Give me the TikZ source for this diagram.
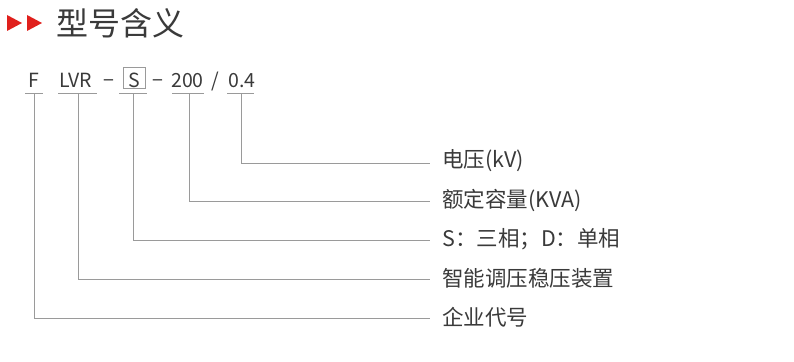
\documentclass[tikz,border=0pt]{standalone}
\usepackage{fontspec}
\setmainfont{Noto Sans CJK SC}
\begin{document}
\begin{tikzpicture}[x=1pt,y=-1pt,
  lbl/.style={anchor=west,inner sep=0pt,text=textgray,font=\fontsize{21.5}{23}\selectfont},
  code/.style={anchor=base,inner sep=0pt,text=textgray,font=\fontsize{19.5}{21}\selectfont},
  conn/.style={draw=linegray,line width=0.9pt},
  uline/.style={draw=linegray,line width=0.9pt}]
\definecolor{textgray}{HTML}{3A3A3A}
\definecolor{linegray}{HTML}{9A9A9A}
\definecolor{arrowred}{HTML}{E0201C}
\useasboundingbox (0,0) rectangle (794,361);
% title
\fill[arrowred] (7,15) -- (22,23) -- (7,31) -- cycle;
\fill[arrowred] (27,15) -- (42,23) -- (27,31) -- cycle;
\node[anchor=west,inner sep=0pt,text=textgray,font=\fontsize{32}{34}\selectfont] (title) at (56,23) {型号含义};
% code line
\node[code] (cF) at (33.5,87) {F};
\node[code] (cLVR) at (75.5,87) {LVR};
\node[code] (d1) at (109,87) {−};
\node[code] (cS) at (134,87) {S};
\node[code] (d2) at (158,87) {−};
\node[code] (c200) at (187.5,87) {200};
\node[code] (sl) at (215.5,87) {/};
\node[code] (c04) at (242,87) {0.4};
\draw[draw=linegray,line width=0.9pt] (123,67) rectangle (145,88);
% underlines
\draw[uline] (25,93) -- (43,93);
\draw[uline] (58,93) -- (97,93);
\draw[uline] (119,93) -- (147,93);
\draw[uline] (172,93) -- (204,93);
\draw[uline] (227,93) -- (254,93);
\coordinate (uF) at (34,93);
\coordinate (uLVR) at (78,93);
\coordinate (uS) at (133,93);
\coordinate (u200) at (189,93);
\coordinate (u04) at (241,93);
% labels
\node[lbl] (l1) at (442,161) {电压(kV)};
\node[lbl] (l2) at (442,200) {额定容量(KVA)};
\node[lbl] (l3) at (442,239) {S：三相；D：单相};
\node[lbl] (l4) at (442,278) {智能调压稳压装置};
\node[lbl] (l5) at (442,317) {企业代号};
\coordinate (e1) at (430,163);
\coordinate (e2) at (430,201);
\coordinate (e3) at (430,240);
\coordinate (e4) at (430,279);
\coordinate (e5) at (430,318);
% connectors
\draw[conn] (u04) |- (e1);
\draw[conn] (u200) |- (e2);
\draw[conn] (uS) |- (e3);
\draw[conn] (uLVR) |- (e4);
\draw[conn] (uF) |- (e5);
\end{tikzpicture}
\end{document}
